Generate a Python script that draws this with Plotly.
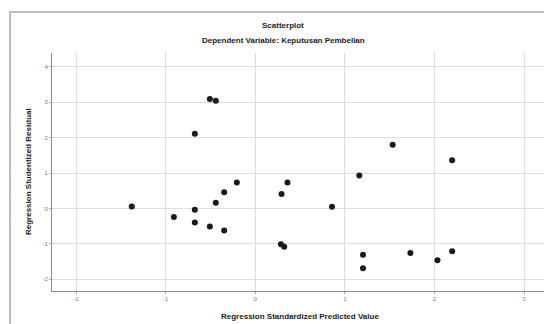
import plotly.graph_objects as go

pred = [-0.506, -0.44, -0.674, -0.205, 0.36, -0.346, 0.294, -0.44, -1.378, -0.674,
        -0.908, -0.674, -0.506, -0.346, 0.287, 0.324, 1.534, 2.198, 1.162, 0.857,
        1.203, 1.203, 1.732, 2.034, 2.198]
resid = [3.09, 3.04, 2.11, 0.73, 0.73, 0.46, 0.41, 0.16, 0.056, -0.04,
         -0.24, -0.40, -0.51, -0.62, -1.01, -1.08, 1.80, 1.36, 0.93, 0.05,
         -1.31, -1.69, -1.26, -1.46, -1.21]
x_ticks = [-2, -1, 0, 1, 2, 3]
y_ticks = [-2, -1, 0, 1, 2, 3, 4]

fig = go.Figure(go.Scatter(
    x=pred, y=resid, mode="markers",
    marker=dict(color="#1a1a1a", size=6, line=dict(width=0)),
    hoverinfo="skip"))

W, H = 544, 324
L, R, T, B = 52, 0, 53, 33
pw, ph = W - L - R, H - T - B

def px(x):
    return (x - L) / pw

def py(y):
    return (H - B - y) / ph

fig.update_layout(
    width=W, height=H,
    margin=dict(l=L, r=R, t=T, b=B, pad=0),
    paper_bgcolor="white", plot_bgcolor="white",
    showlegend=False,
    font=dict(family="Liberation Sans, Arial, sans-serif", color="#222"),
    xaxis=dict(range=[-2.268, 3.223], tickvals=x_ticks, ticktext=[str(v) for v in x_ticks],
               showgrid=True, gridcolor="#dedede", gridwidth=1, zeroline=False,
               showline=True, linecolor="#8a8a8a", linewidth=1,
               ticks="outside", ticklen=2, tickcolor="#aaa",
               tickfont=dict(size=6, color="#777")),
    yaxis=dict(range=[-2.33, 4.387], tickvals=y_ticks, ticktext=[str(v) for v in y_ticks],
               showgrid=True, gridcolor="#dedede", gridwidth=1, zeroline=False,
               showline=True, linecolor="#8a8a8a", linewidth=1,
               ticks="outside", ticklen=2, tickcolor="#aaa",
               tickfont=dict(size=6, color="#777")),
    shapes=[
        dict(type="rect", xref="paper", yref="paper",
             x0=px(10), x1=px(560), y0=py(340), y1=py(12),
             line=dict(color="#bdbdbd", width=2), fillcolor="rgba(0,0,0,0)", layer="below"),
    ],
    annotations=[
        dict(text="<b>Scatterplot</b>", xref="paper", yref="paper", x=px(283), y=py(26),
             showarrow=False, font=dict(size=8, color="#222"), xanchor="center", yanchor="middle"),
        dict(text="<b>Dependent Variable: Keputusan Pembelian</b>", xref="paper", yref="paper",
             x=px(283), y=py(41), showarrow=False, font=dict(size=8, color="#222"),
             xanchor="center", yanchor="middle"),
        dict(text="<b>Regression Standardized Predicted Value</b>", xref="paper", yref="paper",
             x=px(300), y=py(316), showarrow=False, font=dict(size=8, color="#222"),
             xanchor="center", yanchor="middle"),
        dict(text="<b>Regression Studentized Residual</b>", xref="paper", yref="paper",
             x=px(28), y=py(172), showarrow=False, textangle=-90,
             font=dict(size=8, color="#222"), xanchor="center", yanchor="middle"),
    ],
)

fig.write_html("out.html", config={"displayModeBar": False, "staticPlot": True},
               post_script="document.body.style.margin='0';document.body.style.overflow='hidden';")
